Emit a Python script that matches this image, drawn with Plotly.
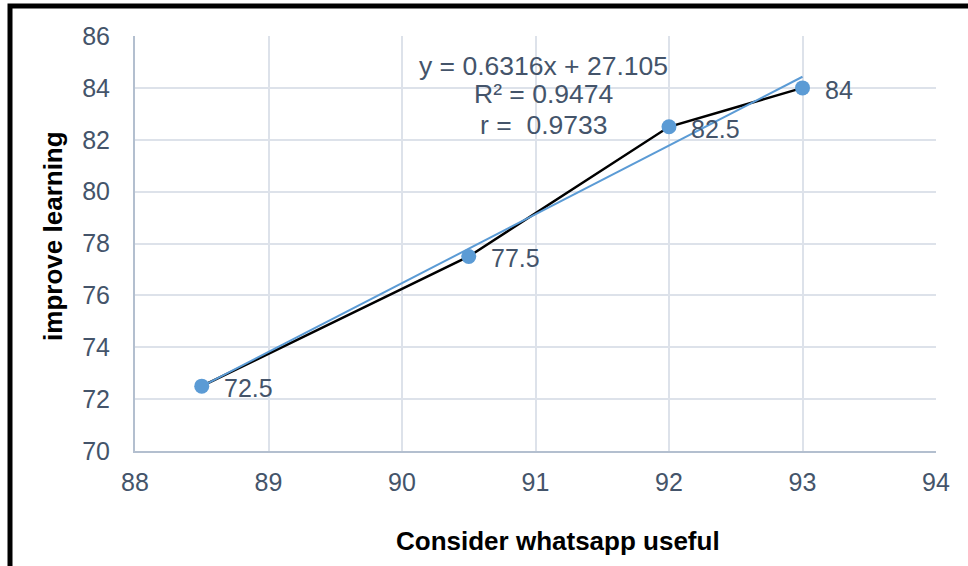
import numpy as np
import plotly.graph_objects as go

# ---- data ----
x_vals = [88.5, 90.5, 92.0, 93.0]
y_vals = [72.5, 77.5, 82.5, 84.0]
point_labels = ["72.5", "77.5", "82.5", "84"]
eq_lines = ["y = 0.6316x + 27.105", "R² = 0.9474", "r =  0.9733"]
x_title = "Consider whatsapp useful"
y_title = "improve learning"

# linear trendline (least squares fit of the data)
slope, intercept = np.polyfit(x_vals, y_vals, 1)
trend_x = [min(x_vals), max(x_vals)]
trend_y = [slope * v + intercept for v in trend_x]

TXT = "#44546a"
BLUE = "#5b9bd5"
FONT = "Liberation Sans, Arial, sans-serif"

fig = go.Figure()
fig.add_trace(go.Scatter(x=x_vals, y=y_vals, mode="lines",
                         line=dict(color="black", width=2.5),
                         hoverinfo="skip", showlegend=False))
fig.add_trace(go.Scatter(x=trend_x, y=trend_y, mode="lines",
                         line=dict(color=BLUE, width=2),
                         hoverinfo="skip", showlegend=False))
fig.add_trace(go.Scatter(x=x_vals, y=y_vals, mode="markers",
                         marker=dict(color=BLUE, size=15),
                         showlegend=False))

# data labels
for xv, yv, lab in zip(x_vals, y_vals, point_labels):
    fig.add_annotation(x=xv, y=yv, text=lab, showarrow=False,
                       xanchor="left", yanchor="middle", xshift=20, yshift=-2,
                       font=dict(size=25, color=TXT, family=FONT))

# equation text (centered block)
eq_y = [84.86, 83.75, 82.58]
for t, yy in zip(eq_lines, eq_y):
    fig.add_annotation(x=91.06, y=yy, text=t, showarrow=False,
                       xanchor="center", yanchor="middle",
                       font=dict(size=26.5, color=TXT, family=FONT))

# axis titles
fig.add_annotation(xref="paper", yref="paper", x=(558 - 135) / 801,
                   y=(450.7 - 541) / 414.2, text="<b>%s</b>" % x_title,
                   showarrow=False, xanchor="center", yanchor="middle",
                   font=dict(size=26, color="black", family=FONT))
fig.add_annotation(xref="paper", yref="paper", x=(53 - 135) / 801,
                   y=(450.7 - 236) / 414.2, text="<b>%s</b>" % y_title,
                   showarrow=False, textangle=-90, xanchor="center", yanchor="middle",
                   font=dict(size=26, color="black", family=FONT))

# outer border (only top and left edges visible in the frame)
fig.add_shape(type="rect", xref="paper", yref="paper",
              x0=(10 - 135) / 801, x1=(990 - 135) / 801,
              y0=(450.7 - 600) / 414.2, y1=(450.7 - 6.5) / 414.2,
              line=dict(color="black", width=5), fillcolor="rgba(0,0,0,0)")

fig.update_xaxes(range=[88, 94], dtick=1, showgrid=True, gridcolor="#dde2ea",
                 gridwidth=1.5, showline=True, linecolor="#b3bfcf", linewidth=2,
                 zeroline=False, ticks="", ticklabelstandoff=8,
                 tickfont=dict(size=25, color=TXT, family=FONT))
fig.update_yaxes(range=[70, 86], dtick=2, showgrid=True, gridcolor="#dde2ea",
                 gridwidth=1.5, showline=True, linecolor="#b3bfcf", linewidth=2,
                 zeroline=False, ticks="", ticklabelstandoff=18,
                 tickfont=dict(size=25, color=TXT, family=FONT))

fig.update_layout(width=968, height=566,
                  margin=dict(l=135, r=32, t=36, b=115, autoexpand=False),
                  paper_bgcolor="white", plot_bgcolor="white",
                  font=dict(family=FONT))

fig.write_html("out.html", config={"displayModeBar": False},
               post_script="document.body.style.margin='0';"
                           "document.body.style.overflow='hidden';")
